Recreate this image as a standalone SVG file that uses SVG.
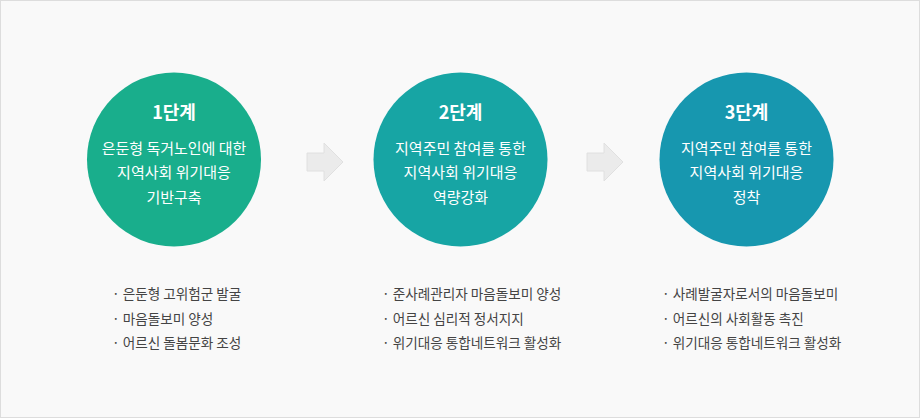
<svg xmlns="http://www.w3.org/2000/svg" width="920" height="418" viewBox="0 0 920 418">
<style>
.t{font-family:"Noto Sans CJK KR","Noto Sans",sans-serif;fill:#ffffff;text-anchor:middle}
.h{font-size:18px;font-weight:700}
.d{font-size:15px}
.b{font-family:"Noto Sans CJK KR","Noto Sans",sans-serif;font-size:13.6px;fill:#444444}
.arr{fill:#ebebeb;stroke:#e0e0e0;stroke-width:1}
</style>
<rect x="0.5" y="0.5" width="919" height="417" fill="#f9f9f9" stroke="#dddddd"/>
<g id="connectors">
<path class="arr" d="M307,153 H324 V143 L343,162 L324,181 V171 H307 Z"/>
<path class="arr" d="M587,153 H604 V143 L623,162 L604,181 V171 H587 Z"/>
</g>
<g id="step1">
<circle cx="174" cy="159.5" r="87" fill="#19ae8c"/>
<text class="t h" x="174" y="118.5">1단계</text>
<text class="t d" x="174" y="153.5">은둔형 독거노인에 대한</text>
<text class="t d" x="174" y="178">지역사회 위기대응</text>
<text class="t d" x="174" y="202.5">기반구축</text>
</g>
<g id="step2">
<circle cx="460.5" cy="159.5" r="87" fill="#17a5a4"/>
<text class="t h" x="460.5" y="118.5">2단계</text>
<text class="t d" x="460.5" y="153.5">지역주민 참여를 통한</text>
<text class="t d" x="460.5" y="178">지역사회 위기대응</text>
<text class="t d" x="460.5" y="202.5">역량강화</text>
</g>
<g id="step3">
<circle cx="746.5" cy="159.5" r="87" fill="#1797af"/>
<text class="t h" x="746.5" y="118.5">3단계</text>
<text class="t d" x="746.5" y="153.5">지역주민 참여를 통한</text>
<text class="t d" x="746.5" y="178">지역사회 위기대응</text>
<text class="t d" x="746.5" y="202.5">정착</text>
</g>
<g id="list1">
<text class="b" x="112" y="299">· 은둔형 고위험군 발굴</text>
<text class="b" x="112" y="324">· 마음돌보미 양성</text>
<text class="b" x="112" y="348">· 어르신 돌봄문화 조성</text>
</g>
<g id="list2">
<text class="b" x="382" y="299">· 준사례관리자 마음돌보미 양성</text>
<text class="b" x="382" y="324">· 어르신 심리적 정서지지</text>
<text class="b" x="382" y="348">· 위기대응 통합네트워크 활성화</text>
</g>
<g id="list3">
<text class="b" x="662" y="299">· 사례발굴자로서의 마음돌보미</text>
<text class="b" x="662" y="324">· 어르신의 사회활동 촉진</text>
<text class="b" x="662" y="348">· 위기대응 통합네트워크 활성화</text>
</g>
</svg>
